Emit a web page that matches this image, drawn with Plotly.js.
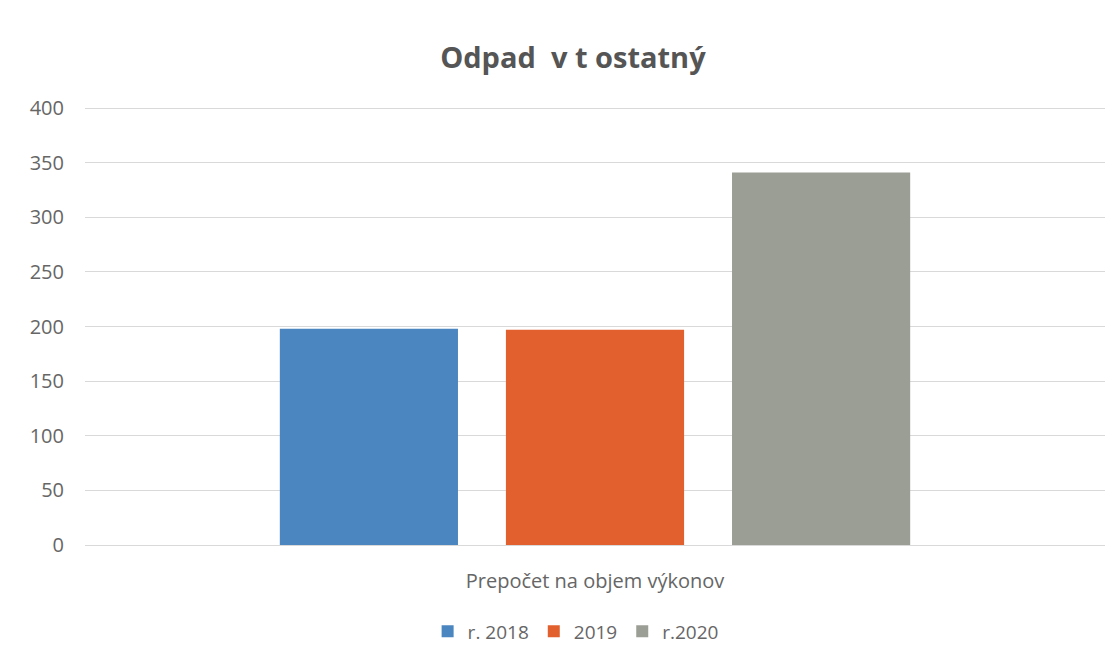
<!DOCTYPE html>
<html>
<head>
<meta charset="utf-8">
<script src="https://cdn.plot.ly/plotly-3.0.1.min.js"></script>
<style>html,body{margin:0;padding:0;background:#fff;}#chart{width:1119px;height:659px;}</style>
</head>
<body>
<div id="chart"></div>
<script>
const categories = ["Prepočet na objem výkonov"];
const seriesNames = ["r. 2018", "2019", "r.2020"];
const values2018 = [198];
const values2019 = [197];
const values2020 = [341];
const yTickValues = [0, 50, 100, 150, 200, 250, 300, 350, 400];
const colors = ["#4c86c0", "#e2602d", "#9b9e95"];

const seriesValues = [values2018, values2019, values2020];
const traces = seriesNames.map((name, i) => ({
  type: "bar",
  name: name,
  x: categories,
  y: seriesValues[i],
  marker: {color: colors[i]},
  hoverinfo: "name+y"
}));

const font = "'Open Sans', 'Noto Sans', 'Liberation Sans', sans-serif";
const layout = {
  width: 1119,
  height: 659,
  paper_bgcolor: "#ffffff",
  plot_bgcolor: "#ffffff",
  margin: {l: 85, r: 14, t: 107, b: 114, autoexpand: false},
  barmode: "group",
  bargap: 0.335,
  bargroupgap: 0.212,
  title: {
    text: "<b>Odpad\u00a0 v t ostatný</b>",
    x: 0.512, xanchor: "center", xref: "container",
    y: 0.912, yanchor: "middle", yref: "container",
    font: {family: font, size: 29, color: "#555555"}
  },
  xaxis: {
    type: "category",
    showgrid: false,
    showline: false,
    zeroline: false,
    ticks: "",
    ticklabelstandoff: 22,
    tickfont: {family: font, size: 20, color: "#666666"}
  },
  yaxis: {
    range: [0, 401],
    tickvals: yTickValues,
    ticktext: yTickValues.map(String),
    showgrid: true,
    gridcolor: "#d9d9d9",
    gridwidth: 1,
    zeroline: true,
    zerolinecolor: "#d9d9d9",
    zerolinewidth: 1,
    showline: false,
    ticks: "",
    ticklabelstandoff: 20,
    tickfont: {family: font, size: 20, color: "#666666"}
  },
  showlegend: true,
  legend: {
    orientation: "h",
    x: 0.481, xanchor: "center",
    y: 0.042, yanchor: "middle", yref: "container",
    font: {family: font, size: 19, color: "#666666"},
    itemwidth: 30,
    traceorder: "normal"
  }
};

Plotly.newPlot("chart", traces, layout, {displayModeBar: false, staticPlot: true});
</script>
</body>
</html>
